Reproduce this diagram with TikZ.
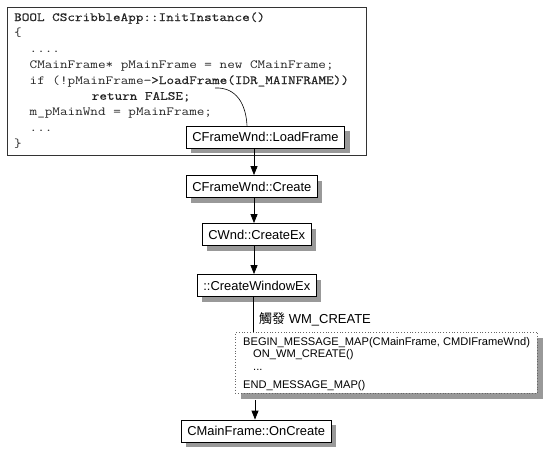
\documentclass[tikz,border=0pt]{standalone}
\usepackage{fontspec}
\setmainfont{Liberation Sans}
\newfontfamily\cjk{Noto Sans CJK TC}
\newfontfamily\codefont[FakeStretch=1.19]{Latin Modern Mono}
\newfontfamily\codebf[FakeStretch=1.19,FakeBold=0.6]{Latin Modern Mono}
\usetikzlibrary{shadows,arrows.meta,calc}
\begin{document}
\begin{tikzpicture}[x=1pt,y=-1pt,
  code/.style={anchor=base west, inner sep=0pt, text=black!85, font=\codefont\fontsize{12.4}{15}\selectfont},
  fnbox/.style={draw, fill=white, line width=0.8pt, anchor=west, minimum height=22pt,
    inner xsep=6pt, inner ysep=0pt, font=\fontsize{12.9}{15}\selectfont,
    drop shadow={shadow xshift=5pt, shadow yshift=-5pt, fill=black!40, opacity=1}},
  mmtext/.style={anchor=base west, inner sep=0pt, font=\fontsize{11.1}{13}\selectfont},
  arr/.style={line width=0.8pt, -{Triangle[length=9pt,width=7pt]}},
  link/.style={line width=0.8pt}]
\useasboundingbox (0,0) rectangle (553,455);
% code box
\node[draw=black!80, line width=0.8pt, anchor=north west, minimum width=359pt,
  minimum height=148pt, inner sep=0pt] (codebox) at (7,7) {};
\node[code] (c1) at (14,21) {{\codebf BOOL CScribbleApp::InitInstance()}};
\node[code] (c2) at (14,36.75) {\{};
\node[code] (c3) at (29.5,52.5) {....};
\node[code] (c4) at (29.5,68.25) {CMainFrame* pMainFrame = new CMainFrame;};
\node[code] (c5) at (29.5,84) {if (!pMainFrame{\codebf ->LoadFrame(IDR\_MAINFRAME))}};
\node[code] (c6) at (91.6,99.75) {{\codebf return FALSE;}};
\node[code] (c7) at (29.5,115.5) {m\_pMainWnd = pMainFrame;};
\node[code] (c8) at (29.5,131.25) {...};
\node[code] (c9) at (14,147) {\}};
% function boxes
\node[fnbox] (lf) at (186,137) {CFrameWnd::LoadFrame};
\node[fnbox] (cr) at (186,186.5) {CFrameWnd::Create};
\node[fnbox] (cx) at (202,234.5) {CWnd::CreateEx};
\node[fnbox] (cw) at (197,285.5) {::CreateWindowEx};
% message map
\node[draw=black!60, dotted, line width=0.8pt, fill=white, anchor=north west,
  minimum width=302pt, minimum height=61pt, inner sep=0pt,
  drop shadow={shadow xshift=6pt, shadow yshift=-6pt, fill=black!40, opacity=1}] (mm) at (235,332) {};
\node[mmtext] (m1) at (243,345) {BEGIN\_MESSAGE\_MAP(CMainFrame, CMDIFrameWnd)};
\node[mmtext] (m2) at (253,357) {ON\_WM\_CREATE()};
\node[mmtext] (m3) at (253,370) {...};
\node[mmtext] (m4) at (243,388) {END\_MESSAGE\_MAP()};
\node[fnbox] (oc) at (181,431) {CMainFrame::OnCreate};
% label
\node[anchor=base west, inner sep=0pt, font=\fontsize{13}{15}\selectfont] (lbl) at (259,323) {{\cjk 觸發} WM\_CREATE};
% connectors
\coordinate (ax) at (254,0);
\coordinate (cs) at (215,88);
\coordinate (ce) at ($(lf.north west)+(61,0)$);
\draw[line width=0.6pt] (cs) .. controls (237,87) and (246,105) .. (ce);
\draw[arr] (lf.south -| ax) -- (cr.north -| ax);
\draw[arr] (cr.south -| ax) -- (cx.north -| ax);
\draw[arr] (cx.south -| ax) -- (cw.north -| ax);
\draw[link] ($(cw.south -| ax)+(-1,0)$) -- ($(mm.north -| ax)+(-1,0)$);
\draw[arr] ($(mm.south -| ax)+(1,6)$) -- ($(oc.north -| ax)+(1,0)$);
\end{tikzpicture}
\end{document}
